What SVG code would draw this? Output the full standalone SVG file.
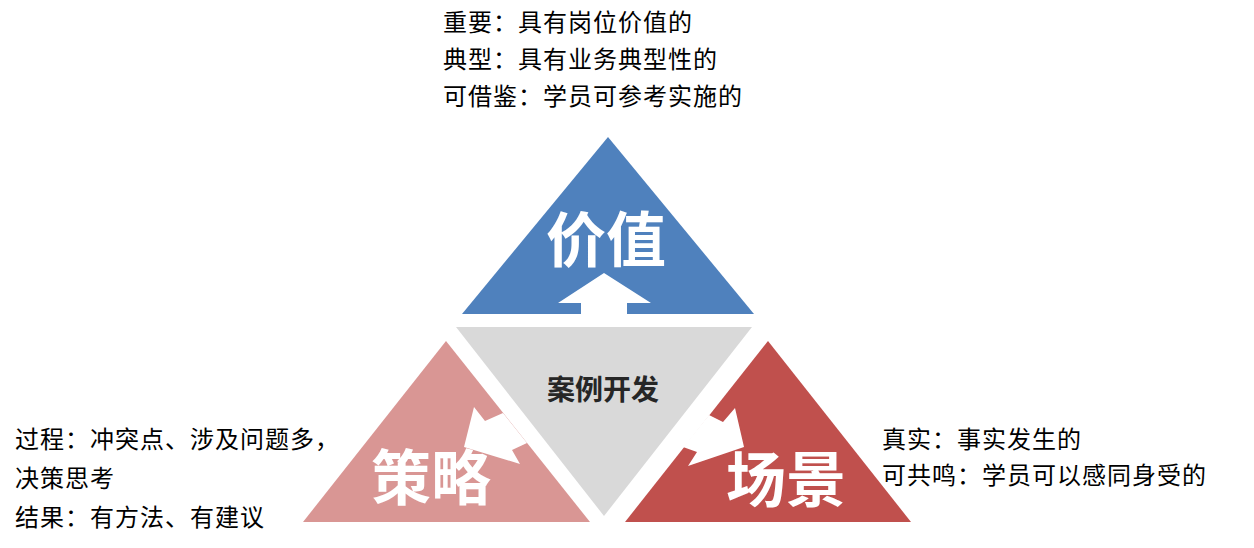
<svg xmlns="http://www.w3.org/2000/svg" width="1254" height="548" viewBox="0 0 1254 548">
<style>
.t{font-family:"Noto Sans CJK SC","Noto Sans",sans-serif;font-size:24px;letter-spacing:1px;fill:#000}
.big{font-family:"Noto Sans CJK SC","Noto Sans",sans-serif;font-weight:bold;fill:#fff;text-anchor:middle}
.arrow{fill:#fff}
</style>
<rect width="1254" height="548" fill="#fff"/>
<g id="node-value">
<polygon points="608,137 462,314 754,314" fill="#4F81BD"/>
<text class="big" x="606" y="262" font-size="60">价值</text>
</g>
<g id="node-case">
<polygon points="456,327 752,327 604,516" fill="#D9D9D9"/>
<text x="603" y="400" font-family="'Noto Sans CJK SC',sans-serif" font-weight="bold" font-size="28" fill="#262626" text-anchor="middle">案例开发</text>
</g>
<g id="node-strategy">
<polygon points="446,341 303,522 590,522" fill="#D99694"/>
<text class="big" x="431" y="500" font-size="60">策略</text>
</g>
<g id="node-scene">
<polygon points="768,341 625,522 911,522" fill="#C0504D"/>
<text class="big" x="786" y="502" font-size="60">场景</text>
</g>
<g id="connectors">
<polygon class="arrow" points="581,314 581,303 558,303 604,273 651,303 627,303 627,314"/>
<polygon class="arrow" points="503,413 485,421 474,407 464,447 520,464 512,450 527,443"/>
<polygon class="arrow" points="709,415 723,422 735,408 744,447 688,466 697,452 683,447"/>
</g>
<g id="text-top">
<text class="t" x="443" y="31">重要：具有岗位价值的</text>
<text class="t" x="443" y="68">典型：具有业务典型性的</text>
<text class="t" x="443" y="105">可借鉴：学员可参考实施的</text>
</g>
<g id="text-left">
<text class="t" x="15" y="448">过程：冲突点、涉及问题多，</text>
<text class="t" x="15" y="487">决策思考</text>
<text class="t" x="15" y="526">结果：有方法、有建议</text>
</g>
<g id="text-right">
<text class="t" x="882" y="448">真实：事实发生的</text>
<text class="t" x="882" y="484">可共鸣：学员可以感同身受的</text>
</g>
</svg>
